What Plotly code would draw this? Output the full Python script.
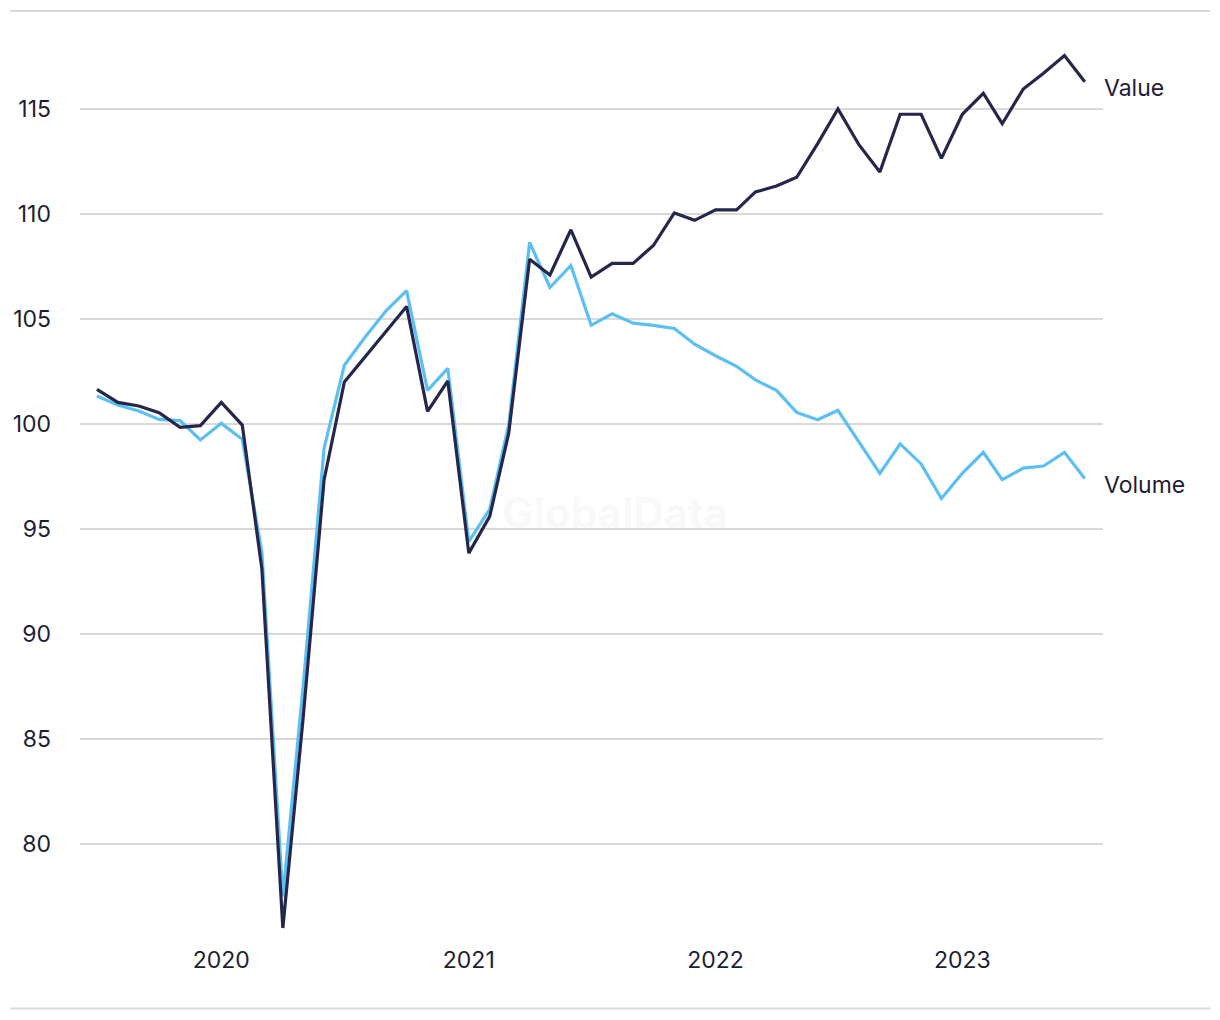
import pandas as pd
import plotly.graph_objects as go

months = pd.date_range("2019-07-01", "2023-07-01", freq="MS").strftime("%Y-%m-%d").tolist()

value = [101.65, 101.03, 100.86, 100.54, 99.84, 99.92, 101.03, 99.95, 93.1, 76.0,
         86.0, 97.35, 102.0, 103.2, 104.4, 105.6, 100.6, 102.05, 93.85, 95.6,
         99.55, 107.85, 107.1, 109.25, 107.0, 107.65, 107.65, 108.5, 110.05, 109.7,
         110.2, 110.2, 111.05, 111.33, 111.75, 113.35, 115.0, 113.3, 112.0, 114.75,
         114.75, 112.65, 114.75, 115.75, 114.3, 115.95, 116.7, 117.55, 116.3]

volume = [101.33, 100.9, 100.62, 100.22, 100.16, 99.24, 100.03, 99.27, 93.9, 77.5,
          87.5, 98.85, 102.8, 104.15, 105.4, 106.35, 101.6, 102.65, 94.4, 95.95,
          99.95, 108.65, 106.5, 107.55, 104.7, 105.25, 104.8, 104.7, 104.55, 103.8,
          103.25, 102.75, 102.1, 101.6, 100.55, 100.2, 100.65, 99.15, 97.65, 99.05,
          98.1, 96.45, 97.65, 98.65, 97.35, 97.9, 98.0, 98.65, 97.4]

y_ticks = [80, 85, 90, 95, 100, 105, 110, 115]
series_names = ["Value", "Volume"]

DARK = "#25264c"
LIGHT = "#5cbff4"
TEXT = "#1d1d35"
GRID = "#d9d9d9"

fig = go.Figure()
fig.add_trace(go.Scatter(x=months, y=volume, mode="lines", name=series_names[1],
                         line=dict(color=LIGHT, width=3.2), hoverinfo="skip"))
fig.add_trace(go.Scatter(x=months, y=value, mode="lines", name=series_names[0],
                         line=dict(color=DARK, width=3.2), hoverinfo="skip"))

for name, vals in [(series_names[0], value), (series_names[1], volume)]:
    fig.add_annotation(x=months[-1], y=vals[-1], text=name, showarrow=False,
                       xanchor="left", yanchor="middle", xshift=17, yshift=-6,
                       font=dict(size=23, color=TEXT, family="Inter"))

fig.add_annotation(x=0.523, y=0.465, xref="paper", yref="paper", text="<b>GlobalData</b>",
                   showarrow=False, font=dict(size=42, color="rgba(200,200,200,0.12)", family="Inter"))

# decorative top & bottom rules
fig.add_shape(type="line", xref="paper", yref="paper", x0=-0.0684, x1=1.1046, y0=1.0, y1=1.0,
              line=dict(color=GRID, width=2))
fig.add_shape(type="line", xref="paper", yref="paper", x0=-0.0684, x1=1.1046, y0=-0.0634, y1=-0.0634,
              line=dict(color=GRID, width=2))

fig.update_layout(
    width=1220, height=1020,
    margin=dict(l=80, r=117, t=11, b=71),
    paper_bgcolor="white", plot_bgcolor="white",
    showlegend=False,
    font=dict(family="Inter", size=23, color=TEXT),
    xaxis=dict(range=["2019-06-06", "2023-07-28"], showgrid=False, zeroline=False,
               tickformat="%Y", dtick="M12", tick0="2020-01-01", ticks="",
               showline=False, ticklabelstandoff=-5),
    yaxis=dict(range=[75.0, 119.667], tickvals=y_ticks, showgrid=True, gridcolor=GRID,
               gridwidth=2, zeroline=False, showline=False, ticks="",
               ticklabelstandoff=28),
)

fig.write_html("out.html")
